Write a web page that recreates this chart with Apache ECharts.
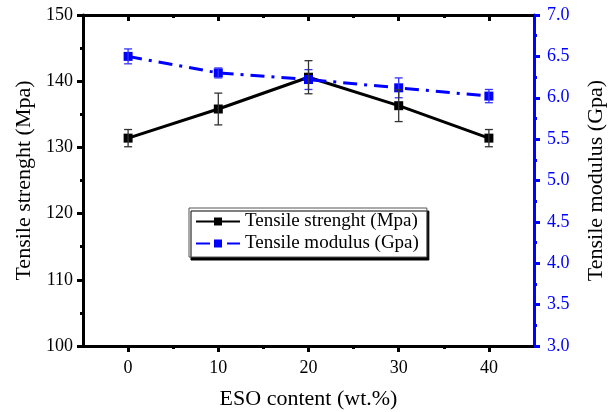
<!DOCTYPE html>
<html><head><meta charset="utf-8">
<script src="https://cdn.jsdelivr.net/npm/echarts@6/dist/echarts.min.js"></script>
<style>html,body{margin:0;padding:0;background:#fff}#c{width:608px;height:412px}</style>
</head><body><div id="c"></div>
<script>
const xValues = [0, 10, 20, 30, 40];
const xTickValues = [0, 10, 20, 30, 40];
const xMinorTickValues = [5, 15, 25, 35];
const strength = [131.4, 135.8, 140.6, 136.3, 131.4];
const strengthErr = [1.3, 2.4, 2.5, 2.4, 1.3];
const modulus = [6.50, 6.30, 6.22, 6.12, 6.02];
const modulusErr = [0.09, 0.06, 0.12, 0.12, 0.08];
const seriesNames = ['Tensile strenght (Mpa)', 'Tensile modulus (Gpa)'];
const xTitle = 'ESO content (wt.%)';
const yLeftTitle = 'Tensile strenght (Mpa)';
const yRightTitle = 'Tensile modulus (Gpa)';

const FONT = "'Liberation Serif','Times New Roman',serif";
const BLUE = '#0000ff';

function errData(vals, errs) {
  return xValues.map((x, i) => [x, vals[i] - errs[i], vals[i] + errs[i]]);
}
function errRender(color) {
  return function (params, api) {
    const x = api.value(0), lo = api.value(1), hi = api.value(2);
    const p1 = api.coord([x, hi]), p2 = api.coord([x, lo]);
    const w = 4;
    const st = { stroke: color, lineWidth: 1.3 };
    return { type: 'group', children: [
      { type: 'line', shape: { x1: p1[0], y1: p1[1], x2: p2[0], y2: p2[1] }, style: st },
      { type: 'line', shape: { x1: p1[0] - w, y1: p1[1], x2: p1[0] + w, y2: p1[1] }, style: st },
      { type: 'line', shape: { x1: p2[0] - w, y1: p2[1], x2: p2[0] + w, y2: p2[1] }, style: st }
    ]};
  };
}

const chart = echarts.init(document.getElementById('c'), null, { renderer: 'canvas' });
const baseX = { type: 'value', min: -5, max: 45, interval: 5, splitLine: { show: false } };
chart.setOption({
  animation: false,
  backgroundColor: '#fff',
  textStyle: { fontFamily: FONT },
  grid: { left: 83, right: 74, top: 15, bottom: 66, containLabel: false, outerBoundsMode: 'none' },
  legend: {
    data: seriesNames,
    orient: 'vertical',
    left: 189, top: 208,
    itemWidth: 44, itemHeight: 10, itemGap: 3,
    padding: [4, 8, 4, 6],
    backgroundColor: '#fff',
    borderColor: '#555', borderWidth: 1,
    shadowColor: '#000', shadowBlur: 0, shadowOffsetX: 2, shadowOffsetY: 3,
    textStyle: { fontFamily: FONT, fontSize: 19, color: '#000' }
  },
  xAxis: [
    Object.assign({}, baseX, {
      position: 'bottom',
      name: xTitle, nameLocation: 'middle', nameGap: 42,
      nameTextStyle: { fontFamily: FONT, fontSize: 22, color: '#000' },
      axisLine: { show: true, onZero: false, lineStyle: { color: '#000', width: 3 } },
      axisTick: { show: true, inside: false, length: 6, lineStyle: { width: 3, color: '#000' }, customValues: xTickValues },
      axisLabel: { fontFamily: FONT, fontSize: 18, color: '#000', margin: 13, customValues: xTickValues }
    }),
    Object.assign({}, baseX, {
      position: 'bottom',
      axisLine: { show: false, onZero: false },
      axisTick: { show: true, inside: false, length: 3, lineStyle: { width: 3, color: '#000' }, customValues: xMinorTickValues },
      axisLabel: { show: false }
    }),
    Object.assign({}, baseX, {
      position: 'top',
      axisLine: { show: true, onZero: false, lineStyle: { color: '#000', width: 3 } },
      axisTick: { show: true, inside: true, length: 6, lineStyle: { width: 3, color: '#000' }, customValues: xTickValues },
      axisLabel: { show: false }
    }),
    Object.assign({}, baseX, {
      position: 'top',
      axisLine: { show: false, onZero: false },
      axisTick: { show: true, inside: true, length: 3, lineStyle: { width: 3, color: '#000' }, customValues: xMinorTickValues },
      axisLabel: { show: false }
    })
  ],
  yAxis: [
    {
      type: 'value', min: 100, max: 150, interval: 10, position: 'left',
      name: yLeftTitle, nameLocation: 'middle', nameGap: 48, nameRotate: 90,
      nameTextStyle: { fontFamily: FONT, fontSize: 22, color: '#000' },
      axisLine: { show: true, onZero: false, lineStyle: { color: '#000', width: 3 } },
      axisTick: { show: true, inside: false, length: 6, lineStyle: { width: 3, color: '#000' } },
      minorTick: { show: true, splitNumber: 2, length: 3, lineStyle: { width: 3, color: '#000' } },
      axisLabel: { fontFamily: FONT, fontSize: 18, color: '#000', margin: 10 },
      splitLine: { show: false }
    },
    {
      type: 'value', min: 3, max: 7, interval: 0.5, position: 'right',
      name: yRightTitle, nameLocation: 'middle', nameGap: 51, nameRotate: 90,
      nameTextStyle: { fontFamily: FONT, fontSize: 22, color: '#000' },
      axisLine: { show: true, onZero: false, lineStyle: { color: BLUE, width: 3 } },
      axisTick: { show: true, inside: false, length: 6, lineStyle: { width: 3, color: BLUE } },
      minorTick: { show: true, splitNumber: 2, length: 3, lineStyle: { width: 3, color: BLUE } },
      axisLabel: { fontFamily: FONT, fontSize: 18, color: BLUE, margin: 13, formatter: v => v.toFixed(1) },
      splitLine: { show: false }
    }
  ],
  series: [
    {
      name: seriesNames[0], type: 'line', xAxisIndex: 0, yAxisIndex: 0,
      data: xValues.map((x, i) => [x, strength[i]]),
      symbol: 'rect', symbolSize: 9, showAllSymbol: true,
      itemStyle: { color: '#000' },
      lineStyle: { color: '#000', width: 3 }, z: 3
    },
    {
      name: 'strengthErr', type: 'custom', xAxisIndex: 0, yAxisIndex: 0,
      data: errData(strength, strengthErr), renderItem: errRender('#333'), z: 6
    },
    {
      name: seriesNames[1], type: 'line', xAxisIndex: 0, yAxisIndex: 1,
      data: xValues.map((x, i) => [x, modulus[i]]),
      symbol: 'rect', symbolSize: 9, showAllSymbol: true,
      itemStyle: { color: BLUE },
      lineStyle: { color: BLUE, width: 3, type: [14, 7, 3, 7] }, z: 4
    },
    {
      name: 'modulusErr', type: 'custom', xAxisIndex: 0, yAxisIndex: 1,
      data: errData(modulus, modulusErr), renderItem: errRender('#3333ff'), z: 5
    }
  ]
});
</script></body></html>
